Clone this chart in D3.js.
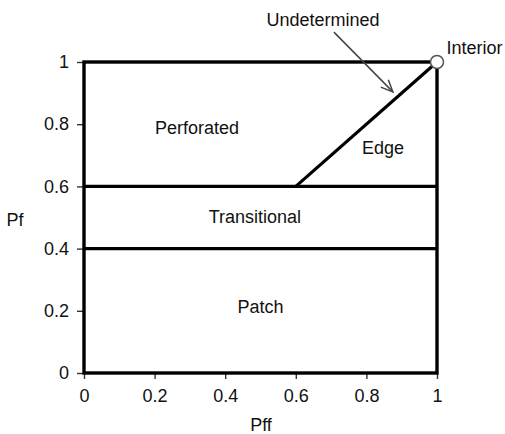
<!DOCTYPE html>
<html><head><meta charset="utf-8">
<script src="https://cdn.jsdelivr.net/npm/d3@7"></script>
<style>body{margin:0;background:#fff}text{font-family:"Liberation Sans",Arial,sans-serif;fill:#111}</style>
</head><body><svg id="c" width="505" height="434"></svg>
<script>
const xTicks = [0, 0.2, 0.4, 0.6, 0.8, 1];
const yTicks = [0, 0.2, 0.4, 0.6, 0.8, 1];
const boundaries = [0.4, 0.6];
const edgeLine = [[0.6, 0.6], [1, 1]];
const regionNames = ["Perforated", "Edge", "Transitional", "Patch"];
const regionX = [0.32, 0.847, 0.484, 0.5];
const regionY = [0.79, 0.723, 0.503, 0.212];
const interiorPoint = [1, 1];
const arrowFrom = [0.708, 1.096];
const arrowTo = [0.875, 0.904];

const svg = d3.select("#c");
const x = d3.scaleLinear().domain([0, 1]).range([84, 437]);
const y = d3.scaleLinear().domain([0, 1]).range([373, 62]);
const fs = 18;

// axes
const xa = svg.append("g").attr("transform", `translate(0,${y(0)})`)
  .call(d3.axisBottom(x).tickValues(xTicks).tickFormat(d3.format("~g")).tickSize(6).tickPadding(10));
const ya = svg.append("g").attr("transform", `translate(${x(0)},0)`)
  .call(d3.axisLeft(y).tickValues(yTicks).tickFormat(d3.format("~g")).tickSize(7).tickPadding(8));
[xa, ya].forEach(a => {
  a.select(".domain").remove();
  a.selectAll(".tick line").attr("stroke", "#333").attr("stroke-width", 1.4);
  a.selectAll(".tick text").attr("font-size", fs).attr("font-family", "Liberation Sans, Arial, sans-serif").attr("fill", "#111");
});

// frame
svg.append("rect").attr("x", x(0)).attr("y", y(1)).attr("width", x(1) - x(0)).attr("height", y(0) - y(1))
  .attr("fill", "none").attr("stroke", "#000").attr("stroke-width", 3.4);
svg.selectAll("line.b").data(boundaries).join("line").attr("class", "b")
  .attr("x1", x(0)).attr("x2", x(1)).attr("y1", d => y(d)).attr("y2", d => y(d))
  .attr("stroke", "#000").attr("stroke-width", 3.4);
svg.append("line").attr("x1", x(edgeLine[0][0])).attr("y1", y(edgeLine[0][1]))
  .attr("x2", x(edgeLine[1][0])).attr("y2", y(edgeLine[1][1]))
  .attr("stroke", "#000").attr("stroke-width", 3.2);

// region labels
svg.selectAll("text.r").data(regionNames).join("text").attr("class", "r")
  .attr("x", (d, i) => x(regionX[i])).attr("y", (d, i) => y(regionY[i]))
  .attr("text-anchor", "middle").attr("dy", "0.35em").attr("font-size", fs).text(d => d);

// arrow
const ax1 = x(arrowFrom[0]), ay1 = y(arrowFrom[1]), ax2 = x(arrowTo[0]), ay2 = y(arrowTo[1]);
svg.append("line").attr("x1", ax1).attr("y1", ay1).attr("x2", ax2).attr("y2", ay2)
  .attr("stroke", "#444").attr("stroke-width", 1.5);
const ang = Math.atan2(ay2 - ay1, ax2 - ax1), L = 13, w = 0.42;
svg.append("path").attr("d",
  `M${ax2 - L * Math.cos(ang - w)},${ay2 - L * Math.sin(ang - w)}L${ax2},${ay2}L${ax2 - L * Math.cos(ang + w)},${ay2 - L * Math.sin(ang + w)}`)
  .attr("fill", "none").attr("stroke", "#444").attr("stroke-width", 1.5);
svg.append("text").attr("x", x(0.677)).attr("y", y(1.135)).attr("dy", "0.35em")
  .attr("text-anchor", "middle").attr("font-size", fs).text("Undetermined");

// interior point
svg.append("circle").attr("cx", x(interiorPoint[0])).attr("cy", y(interiorPoint[1])).attr("r", 6.5)
  .attr("fill", "#fff").attr("stroke", "#555").attr("stroke-width", 1.5);
svg.append("text").attr("x", x(1.027)).attr("y", y(1.045)).attr("dy", "0.35em")
  .attr("font-size", fs).text("Interior");

// axis titles
svg.append("text").attr("x", 15).attr("y", 220).attr("dy", "0.35em").attr("text-anchor", "middle")
  .attr("font-size", fs).text("Pf");
svg.append("text").attr("x", 261).attr("y", 425).attr("dy", "0.35em").attr("text-anchor", "middle")
  .attr("font-size", fs).text("Pff");
</script></body></html>
